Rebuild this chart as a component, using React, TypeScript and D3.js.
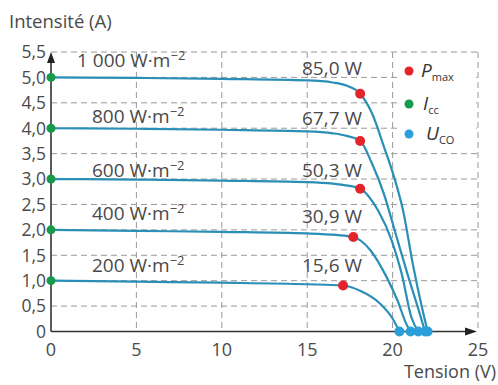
import React from "react";
import * as d3 from "d3";

const irradiance = ["1 000", "800", "600", "400", "200"];
const powerLabels = ["85,0 W", "67,7 W", "50,3 W", "30,9 W", "15,6 W"];
const iscValues = [5.0, 4.0, 3.0, 2.0, 1.0];
const vocValues = [22.05, 21.9, 21.5, 21.05, 20.4];
const pmaxV = [18.1, 18.1, 18.1, 17.7, 17.1];
const pmaxI = [4.68, 3.75, 2.81, 1.86, 0.905];

// I-V curves, [tension V, intensité A]
const curve1000 = [
  [0, 5.0], [5, 4.99], [10, 4.97], [15, 4.94], [16.5, 4.9], [17.3, 4.84],
  [18.1, 4.68], [18.8, 4.29], [19.5, 3.63], [20.15, 2.97], [20.6, 2.4],
  [21.2, 1.3], [21.7, 0.5], [22.05, 0],
];
const curve800 = [
  [0, 4.0], [5, 3.99], [10, 3.97], [15, 3.94], [16.5, 3.9], [17.3, 3.85],
  [18.1, 3.75], [18.8, 3.3], [19.5, 2.7], [20.2, 1.9], [20.9, 1.1],
  [21.5, 0.45], [21.9, 0],
];
const curve600 = [
  [0, 3.0], [5, 2.99], [10, 2.97], [15, 2.94], [16.5, 2.91], [17.4, 2.87],
  [18.1, 2.81], [19.15, 2.38], [19.95, 1.79], [20.53, 1.14], [21.1, 0.28],
  [21.5, 0],
];
const curve400 = [
  [0, 2.0], [5, 1.98], [10, 1.96], [15, 1.93], [16.7, 1.9], [17.7, 1.86],
  [18.7, 1.6], [19.65, 1.07], [20.3, 0.6], [20.8, 0.15], [21.05, 0],
];
const curve200 = [
  [0, 1.0], [5, 0.98], [10, 0.96], [15, 0.93], [17.1, 0.905], [18.1, 0.8],
  [19.26, 0.55], [19.95, 0.28], [20.4, 0],
];
const curves = [curve1000, curve800, curve600, curve400, curve200];

const xTicks = [0, 5, 10, 15, 20, 25];
const yTicks = [0, 0.5, 1, 1.5, 2, 2.5, 3, 3.5, 4, 4.5, 5, 5.5];

const W = 498;
const H = 385;
const FONT = "'Open Sans', 'DejaVu Sans', sans-serif";
const TEXT = "#4a4a4a";
const LINE = "#2a8fb6";

const irrLabelDy = [-10, -5, -2.5, -10, -9];
const powLabelDy = [-2.5, -3, -2.5, -7, -9];

const x = d3.scaleLinear().domain([0, 25]).range([51, 478]);
const y = d3.scaleLinear().domain([0, 5.5]).range([331.5, 52]);

const line = d3
  .line<number[]>()
  .x((d) => x(d[0]))
  .y((d) => y(d[1]))
  .curve(d3.curveMonotoneX);

const fmt = (v: number) => (v === 0 ? "0" : v.toFixed(1).replace(".", ","));

export default function App() {
  const x0 = x(0);
  const y0 = y(0);
  return (
    <svg
      width={W}
      height={H}
      style={{ position: "absolute", left: 0, top: 0, background: "#fff" }}
      fontFamily={FONT}
    >
      {/* grid */}
      <g stroke="#9a9a9a" strokeWidth={1} strokeDasharray="6,4">
        {yTicks
          .filter((t) => t > 0)
          .map((t) => (
            <line key={"h" + t} x1={x0} x2={x(25)} y1={y(t)} y2={y(t)} />
          ))}
        {xTicks
          .filter((t) => t > 0)
          .map((t) => (
            <line key={"v" + t} x1={x(t)} x2={x(t)} y1={y(5.5)} y2={y0} />
          ))}
      </g>

      {/* legend background */}
      <rect x={398} y={58} width={78} height={90} fill="#fff" />

      {/* axes */}
      <g stroke="#333" strokeWidth={1.6}>
        <line x1={x0} x2={x0} y1={y0} y2={60} />
        <line x1={x0} x2={466} y1={y0} y2={y0} />
      </g>
      <path d={`M${x0},52 L${x0 - 4},63 L${x0 + 4},63 Z`} fill="#222" />
      <path d={`M477,${y0} L465,${y0 - 4} L465,${y0 + 4} Z`} fill="#222" />

      {/* tick labels */}
      <g fill={TEXT} fontSize={17.5}>
        {yTicks.map((t) => (
          <text key={"yt" + t} x={46} y={y(t)} dy="0.36em" textAnchor="end">
            {fmt(t)}
          </text>
        ))}
        {xTicks.map((t) => (
          <text key={"xt" + t} x={x(t)} y={356} fontSize={18} textAnchor="middle">
            {t}
          </text>
        ))}
      </g>

      <text x={9} y={28} fontSize={18.5} fill={TEXT}>
        Intensité (A)
      </text>
      <text x={496} y={378} fontSize={18} fill={TEXT} textAnchor="end">
        Tension (V)
      </text>

      {/* curves */}
      <g fill="none" stroke={LINE} strokeWidth={2.2}>
        {curves.map((c, i) => (
          <path key={"c" + i} d={line(c as number[][]) || ""} />
        ))}
      </g>

      {/* labels */}
      <g fill={TEXT} fontSize={19}>
        {irradiance.map((lab, i) => (
          <text
            key={"irr" + i}
            x={i === 0 ? 77 : 92}
            y={y(iscValues[i]) + irrLabelDy[i]}
          >
            {lab} W·m
            <tspan fontSize={13} dy={-7}>
              −2
            </tspan>
          </text>
        ))}
        {powerLabels.map((lab, i) => (
          <text
            key={"pw" + i}
            x={362}
            y={y(iscValues[i]) + powLabelDy[i]}
            textAnchor="end"
          >
            {lab}
          </text>
        ))}
      </g>

      {/* markers */}
      {iscValues.map((v, i) => (
        <circle key={"icc" + i} cx={x(0)} cy={y(v)} r={4.5} fill="#18994b" />
      ))}
      {vocValues.map((v, i) => (
        <circle key={"uco" + i} cx={x(v)} cy={y0} r={5} fill="#2b9fd9" />
      ))}
      {pmaxV.map((v, i) => (
        <circle key={"pm" + i} cx={x(v)} cy={y(pmaxI[i])} r={5} fill="#e3242b" />
      ))}

      {/* legend */}
      <circle cx={409} cy={71} r={4.5} fill="#e3242b" />
      <circle cx={409} cy={104} r={4.5} fill="#18994b" />
      <circle cx={409} cy={134} r={4.5} fill="#2b9fd9" />
      <g fill="#333" fontSize={19}>
        <text x={421} y={77} fontStyle="italic">
          P
          <tspan fontSize={11} fontStyle="normal" dy={4}>
            max
          </tspan>
        </text>
        <text x={423} y={110} fontStyle="italic">
          I
          <tspan fontSize={11} fontStyle="normal" dy={4}>
            cc
          </tspan>
        </text>
        <text x={426} y={140} fontStyle="italic">
          U
          <tspan fontSize={11} fontStyle="normal" dy={4}>
            CO
          </tspan>
        </text>
      </g>
    </svg>
  );
}
